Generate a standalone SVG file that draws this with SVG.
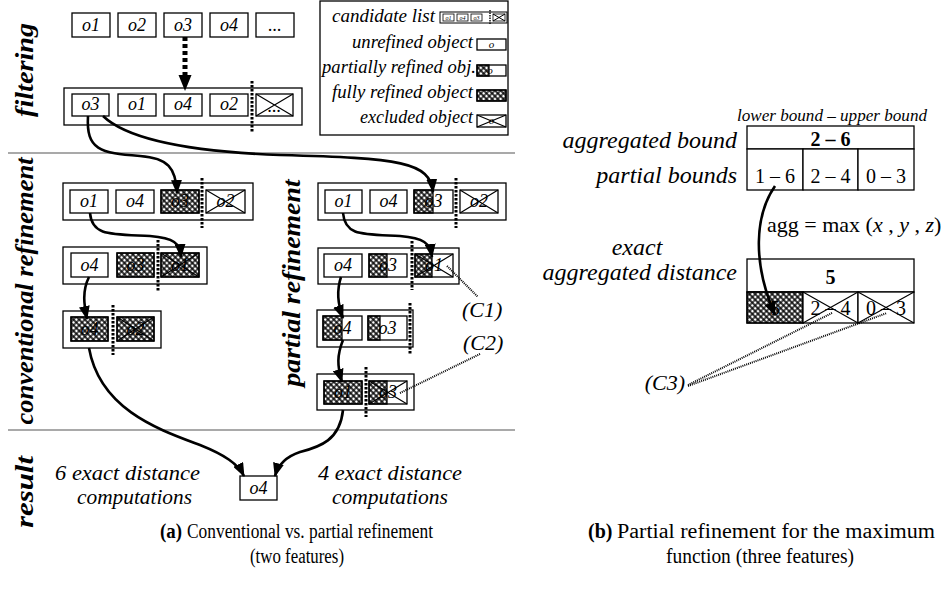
<svg xmlns="http://www.w3.org/2000/svg" width="945" height="591" viewBox="0 0 945 591">
<defs>
  <!-- dense cross-hatch used for refined objects -->
  <pattern id="hx" patternUnits="userSpaceOnUse" width="4" height="4" patternTransform="rotate(45)">
    <path d="M0,2H4M2,0V4" stroke="#000" stroke-width="1.3"/>
  </pattern>
  <marker id="ah" markerUnits="userSpaceOnUse" markerWidth="14" markerHeight="11" refX="13" refY="5.5" orient="auto">
    <path d="M0,0L14,5.5L0,11z" fill="#000"/>
  </marker>
</defs>
<style>
  .bx{fill:#fff;stroke:#000;stroke-width:1.3}
  .ol{fill:none;stroke:#000;stroke-width:1.3}
  .h{fill:url(#hx);stroke:none}
  .x{stroke:#000;stroke-width:1.2}
  .t{font-family:"Liberation Serif",serif;font-style:italic;font-size:18px;text-anchor:middle}
  .cut{stroke:#000;stroke-width:3;stroke-dasharray:2.4 1.6}
  .c{fill:none;stroke:#000;stroke-width:2.6;marker-end:url(#ah)}
  .d{fill:none;stroke:#000;stroke-width:2;stroke-dasharray:1 1}
  .sec{font-family:"Liberation Serif",serif;font-style:italic;font-weight:bold;font-size:26px;text-anchor:middle}
  .lg{font-family:"Liberation Serif",serif;font-style:italic;font-size:18.5px;text-anchor:end}
  .it{font-family:"Liberation Serif",serif;font-style:italic;font-size:21px}
  .big{font-family:"Liberation Serif",serif;font-style:italic;font-size:24px}
  .num{font-family:"Liberation Serif",serif;font-size:20px;text-anchor:middle}
  .bnum{font-family:"Liberation Serif",serif;font-size:20px;font-weight:bold;text-anchor:middle}
  .cap{font-family:"Liberation Serif",serif;font-size:20px}
  .tiny{font-family:"Liberation Serif",serif;font-style:italic;font-size:6px;text-anchor:middle}
  .sm{font-family:"Liberation Serif",serif;font-style:italic;font-size:11px;text-anchor:middle}
  .rule{stroke:#555;stroke-width:1.2}
</style>

<!-- section rules -->
<line class="rule" x1="8" y1="153" x2="515" y2="153"/>
<line class="rule" x1="8" y1="430" x2="515" y2="430"/>

<!-- section titles -->
<g id="titles">
  <text class="sec" transform="translate(33,70) rotate(-90)" textLength="94" lengthAdjust="spacingAndGlyphs">filtering</text>
  <text class="sec" transform="translate(33,291) rotate(-90)" textLength="267" lengthAdjust="spacingAndGlyphs">conventional refinement</text>
  <text class="sec" transform="translate(33,492) rotate(-90)" textLength="72" lengthAdjust="spacingAndGlyphs">result</text>
  <text class="sec" transform="translate(300,283) rotate(-90)" textLength="207" lengthAdjust="spacingAndGlyphs">partial refinement</text>
</g>

<!-- database objects -->
<g id="objects">
  <rect class="bx" x="72" y="13" width="38" height="24"/><text class="t" x="91" y="31">o1</text>
  <rect class="bx" x="118" y="13" width="38" height="24"/><text class="t" x="137" y="31">o2</text>
  <rect class="bx" x="164" y="13" width="38" height="24"/><text class="t" x="183" y="31">o3</text>
  <rect class="bx" x="210" y="13" width="38" height="24"/><text class="t" x="229" y="31">o4</text>
  <rect class="bx" x="256" y="13" width="38" height="24"/><text class="t" x="275" y="31">...</text>
</g>

<!-- candidate list after filtering -->
<g id="candidates">
  <rect class="bx" x="64" y="88" width="238" height="37"/>
  <rect class="bx" x="72" y="94" width="37" height="22"/><text class="t" x="90.5" y="110">o3</text>
  <rect class="bx" x="118" y="94" width="38" height="22"/><text class="t" x="137" y="110">o1</text>
  <rect class="bx" x="164" y="94" width="38" height="22"/><text class="t" x="183" y="110">o4</text>
  <rect class="bx" x="210" y="94" width="38" height="22"/><text class="t" x="229" y="110">o2</text>
  <rect class="bx" x="256" y="94" width="37" height="22"/><text class="t" x="274.5" y="112">...</text>
  <path class="x" d="M256,94L293,116M293,94L256,116"/>
  <line class="cut" x1="252" y1="81" x2="252" y2="132"/>
</g>

<!-- conventional refinement, step 1 -->
<g id="conv1">
  <rect class="bx" x="63" y="183" width="190" height="37"/>
  <rect class="bx" x="70" y="190" width="38" height="23"/><text class="t" x="89" y="207">o1</text>
  <rect class="bx" x="116" y="190" width="38" height="23"/><text class="t" x="135" y="207">o4</text>
  <rect class="bx" x="161" y="190" width="38" height="23"/><text class="t" x="180" y="207">o3</text>
  <rect class="h" x="161" y="190" width="38" height="23"/><rect class="ol" x="161" y="190" width="38" height="23"/>
  <rect class="bx" x="206" y="190" width="39" height="23"/><text class="t" x="225.5" y="207">o2</text>
  <path class="x" d="M206,190L245,213M245,190L206,213"/>
  <line class="cut" x1="202" y1="178" x2="202" y2="228"/>
</g>

<!-- conventional refinement, step 2 -->
<g id="conv2">
  <rect class="bx" x="63" y="247" width="144" height="37"/>
  <rect class="bx" x="71" y="253" width="37" height="24"/><text class="t" x="89.5" y="271">o4</text>
  <rect class="bx" x="117" y="253" width="37" height="24"/><text class="t" x="135.5" y="271">o3</text>
  <rect class="h" x="117" y="253" width="37" height="24"/><rect class="ol" x="117" y="253" width="37" height="24"/>
  <rect class="bx" x="161" y="253" width="38" height="24"/><text class="t" x="180" y="271">o1</text>
  <rect class="h" x="161" y="253" width="38" height="24"/><rect class="ol" x="161" y="253" width="38" height="24"/>
  <path class="x" d="M161,253L199,277M199,253L161,277"/>
  <line class="cut" x1="158" y1="240" x2="158" y2="292"/>
</g>

<!-- conventional refinement, step 3 -->
<g id="conv3">
  <rect class="bx" x="63" y="311" width="98" height="37"/>
  <rect class="bx" x="71" y="317" width="37" height="24"/><text class="t" x="89.5" y="335">o4</text>
  <rect class="h" x="71" y="317" width="37" height="24"/><rect class="ol" x="71" y="317" width="37" height="24"/>
  <rect class="bx" x="117" y="317" width="37" height="24"/><text class="t" x="135.5" y="335">o2</text>
  <rect class="h" x="117" y="317" width="37" height="24"/><rect class="ol" x="117" y="317" width="37" height="24"/>
  <path class="x" d="M117,317L154,341M154,317L117,341"/>
  <line class="cut" x1="113" y1="305" x2="113" y2="355"/>
</g>

<!-- partial refinement, step 1 -->
<g id="part1">
  <rect class="bx" x="318" y="183" width="188" height="37"/>
  <rect class="bx" x="325" y="190" width="37" height="23"/><text class="t" x="343.5" y="207">o1</text>
  <rect class="bx" x="370" y="190" width="37" height="23"/><text class="t" x="388.5" y="207">o4</text>
  <rect class="bx" x="414" y="190" width="39" height="23"/><text class="t" x="433.5" y="207">o3</text>
  <rect class="h" x="414" y="190" width="19" height="23"/><rect class="ol" x="414" y="190" width="19" height="23"/>
  <rect class="bx" x="460" y="190" width="38" height="23"/><text class="t" x="479" y="207">o2</text>
  <path class="x" d="M460,190L498,213M498,190L460,213"/>
  <line class="cut" x1="456" y1="178" x2="456" y2="228"/>
</g>

<!-- partial refinement, step 2 -->
<g id="part2">
  <rect class="bx" x="318" y="248" width="141" height="36"/>
  <rect class="bx" x="324" y="254" width="38" height="23"/><text class="t" x="343" y="271">o4</text>
  <rect class="bx" x="369" y="254" width="38" height="23"/><text class="t" x="388" y="271">o3</text>
  <rect class="h" x="369" y="254" width="18" height="23"/><rect class="ol" x="369" y="254" width="18" height="23"/>
  <rect class="bx" x="415" y="254" width="38" height="23"/><text class="t" x="434" y="271">o1</text>
  <rect class="h" x="415" y="254" width="17" height="23"/><rect class="ol" x="415" y="254" width="17" height="23"/>
  <path class="x" d="M415,254L453,277M453,254L415,277"/>
  <line class="cut" x1="412" y1="241" x2="412" y2="290"/>
</g>

<!-- partial refinement, step 3 -->
<g id="part3">
  <rect class="bx" x="317" y="310" width="96" height="37"/>
  <rect class="bx" x="323" y="316" width="39" height="24"/><text class="t" x="342.5" y="334">o4</text>
  <rect class="h" x="323" y="316" width="19" height="24"/><rect class="ol" x="323" y="316" width="19" height="24"/>
  <rect class="bx" x="368" y="316" width="39" height="24"/><text class="t" x="387.5" y="334">o3</text>
  <rect class="h" x="368" y="316" width="12" height="24"/><rect class="ol" x="368" y="316" width="12" height="24"/>
  <line class="cut" x1="410" y1="303" x2="410" y2="354"/>
</g>

<!-- partial refinement, step 4 -->
<g id="part4">
  <rect class="bx" x="317" y="374" width="97" height="36"/>
  <rect class="bx" x="324" y="381" width="38" height="23"/><text class="t" x="343" y="398">o1</text>
  <rect class="h" x="324" y="381" width="38" height="23"/><rect class="ol" x="324" y="381" width="38" height="23"/>
  <rect class="bx" x="369" y="381" width="38" height="23"/><text class="t" x="388" y="398">o3</text>
  <rect class="h" x="369" y="381" width="18" height="23"/><rect class="ol" x="369" y="381" width="18" height="23"/>
  <path class="x" d="M369,381L407,404M407,381L369,404"/>
  <line class="cut" x1="366" y1="367" x2="366" y2="417"/>
</g>

<!-- final result -->
<g id="result">
  <rect class="bx" x="240" y="476" width="37" height="24"/><text class="t" x="258.5" y="494">o4</text>
  <text class="it" x="127.5" y="480" text-anchor="middle" textLength="145" lengthAdjust="spacingAndGlyphs">6 exact distance</text>
  <text class="it" x="134.5" y="504" text-anchor="middle" textLength="115" lengthAdjust="spacingAndGlyphs">computations</text>
  <text class="it" x="390" y="480" text-anchor="middle" textLength="144" lengthAdjust="spacingAndGlyphs">4 exact distance</text>
  <text class="it" x="390" y="504" text-anchor="middle" textLength="116" lengthAdjust="spacingAndGlyphs">computations</text>
</g>

<!-- legend -->
<g id="legend">
  <rect class="bx" x="320" y="1" width="188" height="134"/>
  <text class="lg" x="435" y="22" textLength="103" lengthAdjust="spacingAndGlyphs">candidate list</text>
  <text class="lg" x="473" y="48" textLength="121" lengthAdjust="spacingAndGlyphs">unrefined object</text>
  <text class="lg" x="476" y="73" textLength="154" lengthAdjust="spacingAndGlyphs">partially refined obj.</text>
  <text class="lg" x="473" y="98" textLength="141" lengthAdjust="spacingAndGlyphs">fully refined object</text>
  <text class="lg" x="473" y="123" textLength="113" lengthAdjust="spacingAndGlyphs">excluded object</text>
  <!-- candidate list icon -->
  <rect class="ol" x="440" y="12" width="67" height="11" style="stroke-width:1"/>
  <rect class="ol" x="443" y="14" width="11" height="7" style="stroke-width:0.8"/><text class="tiny" x="448.5" y="20">o1</text>
  <rect class="ol" x="457" y="14" width="11" height="7" style="stroke-width:0.8"/><text class="tiny" x="462.5" y="20">o4</text>
  <rect class="ol" x="471" y="14" width="11" height="7" style="stroke-width:0.8"/><text class="tiny" x="476.5" y="20">o3</text>
  <line x1="490" y1="10" x2="490" y2="25" stroke="#000" stroke-width="1.4" stroke-dasharray="1.5 1"/>
  <rect class="ol" x="493" y="14" width="12" height="7" style="stroke-width:0.8"/>
  <path d="M493,14L505,21M505,14L493,21" stroke="#000" stroke-width="1"/>
  <!-- unrefined -->
  <rect class="bx" x="477" y="39" width="29" height="11"/><text class="sm" x="491.5" y="48">o</text>
  <!-- partially refined -->
  <rect class="bx" x="477" y="65" width="29" height="11"/><text class="sm" x="490" y="74">o</text>
  <rect class="h" x="477" y="65" width="12" height="11"/><rect class="ol" x="477" y="65" width="12" height="11"/>
  <!-- fully refined -->
  <rect class="bx" x="477" y="90" width="29" height="11"/>
  <rect class="h" x="477" y="90" width="29" height="11"/><rect class="ol" x="477" y="90" width="29" height="11"/>
  <!-- excluded -->
  <rect class="bx" x="477" y="115" width="29" height="12"/><text class="sm" x="491.5" y="124">o</text>
  <path class="x" d="M477,115L506,127M506,115L477,127"/>
</g>

<!-- callouts -->
<g id="callouts">
  <text class="it" x="462" y="317" style="font-size:22px">(C1)</text>
  <text class="it" x="463" y="350" style="font-size:22px">(C2)</text>
  <text class="it" x="685" y="390" text-anchor="end" style="font-size:22px">(C3)</text>
</g>

<!-- aggregated bound example -->
<g id="bounds">
  <text class="it" x="737" y="121" style="font-size:16px" textLength="190" lengthAdjust="spacingAndGlyphs">lower bound – upper bound</text>
  <text class="big" x="737" y="148" text-anchor="end">aggregated bound</text>
  <text class="big" x="737" y="183" text-anchor="end">partial bounds</text>
  <rect class="bx" x="747" y="126" width="167" height="23"/>
  <text class="bnum" x="830.5" y="146">2 – 6</text>
  <rect class="bx" x="747" y="149" width="56" height="41"/><text class="num" x="775" y="183">1 – 6</text>
  <rect class="bx" x="803" y="149" width="55" height="41"/><text class="num" x="830.5" y="183">2 – 4</text>
  <rect class="bx" x="858" y="149" width="56" height="41"/><text class="num" x="886" y="183">0 – 3</text>
</g>

<g id="aggfun">
  <text x="767" y="232" style="font-family:'Liberation Serif',serif;font-size:22px">agg = max (<tspan font-style="italic">x</tspan> , <tspan font-style="italic">y</tspan> , <tspan font-style="italic">z</tspan>)</text>
</g>

<g id="distance">
  <text class="big" x="637" y="255" text-anchor="middle">exact</text>
  <text class="big" x="737" y="280" text-anchor="end">aggregated distance</text>
  <rect class="bx" x="747" y="259" width="167" height="33"/>
  <text class="bnum" x="830.5" y="284">5</text>
  <rect class="bx" x="747" y="292" width="56" height="31"/><text class="num" x="775" y="315">5</text>
  <rect class="h" x="747" y="292" width="56" height="31"/><rect class="ol" x="747" y="292" width="56" height="31"/>
  <rect class="bx" x="803" y="292" width="55" height="31"/><text class="num" x="830.5" y="315">2 – 4</text>
  <path class="x" d="M803,292L858,323M858,292L803,323"/>
  <rect class="bx" x="858" y="292" width="56" height="31"/><text class="num" x="886" y="315">0 – 3</text>
  <path class="x" d="M858,292L914,323M914,292L858,323"/>
</g>

<!-- connectors -->
<g id="connectors">
  <line x1="185" y1="37" x2="185" y2="76" stroke="#000" stroke-width="5" stroke-dasharray="4 3"/>
  <path d="M178.5,75L191.5,75L185,91z" fill="#000"/>
  <path class="c" d="M88,116 C86,150 100,153 140,156 C168,158 176,168 177,193"/>
  <path class="c" d="M103,116 C130,142 200,152 280,155 C400,158 430,162 433,192"/>
  <path class="c" d="M90,213 C92,236 110,234 150,236 C174,238 180,243 181,257"/>
  <path class="c" d="M89,277 C82,291 84,305 87,319"/>
  <path class="c" d="M89,348 C100,410 160,430 200,445 C225,455 238,464 244,476"/>
  <path class="c" d="M343,213 C345,236 362,234 400,236 C424,238 430,243 432,257"/>
  <path class="c" d="M341,277 C336,292 338,305 343,318"/>
  <path class="c" d="M343,340 C337,355 337,366 342,382"/>
  <path class="c" d="M343,410 C340,440 320,447 300,452 C285,457 278,465 275,476"/>
  <path class="c" d="M775,186 C755,215 752,262 775,315"/>
  <path class="d" d="M447,266L478,297"/>
  <path class="d" d="M480,354L400,393"/>
  <path class="d" d="M688,385L832,313"/>
  <path class="d" d="M688,386L887,313"/>
</g>

<!-- captions -->
<g id="captions">
  <text class="cap" x="160" y="538" font-weight="bold" textLength="22" lengthAdjust="spacingAndGlyphs">(a)</text>
  <text class="cap" x="187" y="538" textLength="246" lengthAdjust="spacingAndGlyphs">Conventional vs. partial refinement</text>
  <text class="cap" x="297" y="563" text-anchor="middle" textLength="94" lengthAdjust="spacingAndGlyphs">(two features)</text>
  <text class="cap" x="588" y="538" font-weight="bold">(b)</text>
  <text class="cap" x="617" y="538" textLength="318" lengthAdjust="spacingAndGlyphs">Partial refinement for the maximum</text>
  <text class="cap" x="760" y="563" text-anchor="middle" textLength="188" lengthAdjust="spacingAndGlyphs">function (three features)</text>
</g>
</svg>
